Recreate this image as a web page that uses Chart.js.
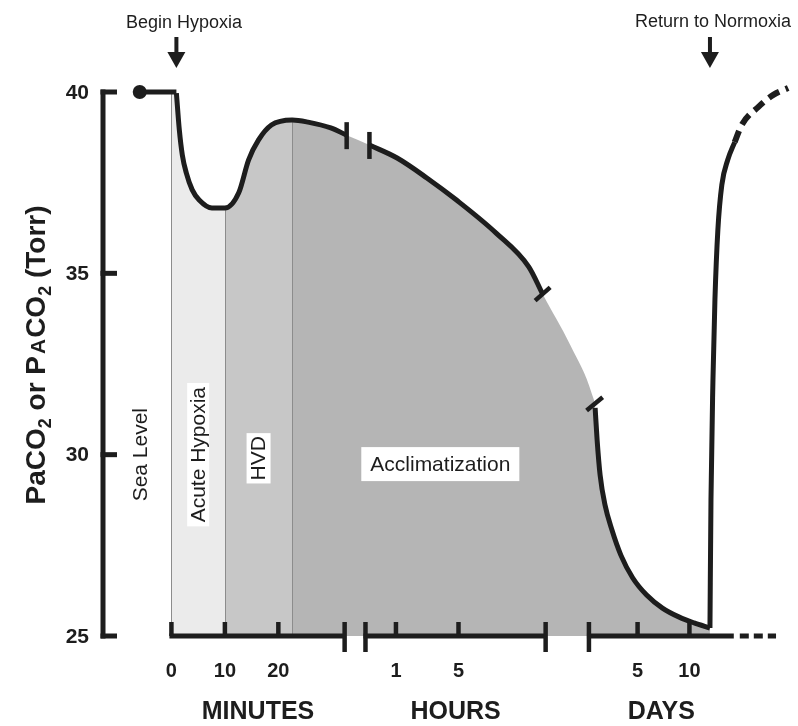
<!DOCTYPE html>
<html>
<head>
<meta charset="utf-8">
<script src="https://cdn.jsdelivr.net/npm/chart.js@4.4.1/dist/chart.umd.min.js"></script>
<style>
  html, body { margin: 0; padding: 0; background: #fff; }
  #wrap { width: 798px; height: 726px; }
</style>
</head>
<body>
<div id="wrap"><canvas id="co2Chart" width="798" height="726"></canvas></div>
<script>
// x is a "timeline position": 1 unit = 1 minute on the minutes segment,
// the hours and days segments are squeezed onto the same axis after the breaks
const yTicks = [25, 30, 35, 40];
const minuteTicks = [0, 10, 20];
const minuteLabels = ['0', '10', '20'];
const hourTicks = [42.0, 53.7];
const hourLabels = ['1', '5'];
const dayTicks = [87.2, 96.9];
const dayLabels = ['5', '10'];
const axisSegments = [[0, 32.4], [36.3, 70.0], [78.1, 105.2]];
const segmentNames = ['MINUTES', 'HOURS', 'DAYS'];
const axisDashEnd = 113.1;
const yAxisAt = -12.8;

// PaCO2 (Torr) along the timeline
const seaLevel = [{x: -5.93, y: 40}, {x: 0.93, y: 40}];
const acutePhase = [
  {x: 0.93, y: 39.97}, {x: 1.48, y: 38.95}, {x: 2.04, y: 38.26}, {x: 2.78, y: 37.77},
  {x: 3.89, y: 37.30}, {x: 5.19, y: 37.02}, {x: 7.59, y: 36.80}, {x: 10.0, y: 36.80},
  {x: 12.59, y: 37.22}, {x: 14.44, y: 38.13}, {x: 16.30, y: 38.68}, {x: 18.70, y: 39.09},
  {x: 22.6, y: 39.23}, {x: 25.56, y: 39.17}, {x: 29.81, y: 39.01}, {x: 32.78, y: 38.81}
];
const hoursPhase = [
  {x: 37.04, y: 38.54}, {x: 42.22, y: 38.18}, {x: 47.78, y: 37.63}, {x: 53.33, y: 37.02},
  {x: 60.74, y: 36.11}, {x: 66.85, y: 35.18}, {x: 69.44, y: 34.43}
];
const unmeasured = [{x: 74.63, y: 33.02}, {x: 78.70, y: 31.65}];
const daysPhase = [
  {x: 79.26, y: 31.29}, {x: 79.63, y: 30.41}, {x: 80.19, y: 29.44}, {x: 81.11, y: 28.61},
  {x: 82.41, y: 27.92}, {x: 84.07, y: 27.23}, {x: 86.30, y: 26.60}, {x: 88.89, y: 26.13},
  {x: 91.85, y: 25.77}, {x: 95.00, y: 25.52}, {x: 97.78, y: 25.36}, {x: 100.74, y: 25.22}
];
const recovery = [
  {x: 100.74, y: 25.22}, {x: 100.93, y: 28.75}, {x: 101.30, y: 32.06}, {x: 101.67, y: 34.27},
  {x: 102.22, y: 36.20}, {x: 102.96, y: 37.44}, {x: 104.07, y: 38.13}, {x: 105.37, y: 38.62}
];
const recoveryLater = [
  {x: 105.37, y: 38.62}, {x: 106.67, y: 39.09}, {x: 109.81, y: 39.59}, {x: 112.59, y: 39.92},
  {x: 115.37, y: 40.11}
];
const bandEdges = [0, 10, 22.6];
const bandColors = ['#ebebeb', '#c7c7c7', '#b5b5b5'];

const shaded = [{x: 0, y: 40}, ...acutePhase, ...hoursPhase, ...unmeasured, ...daysPhase];

const ink = '#1d1d1d';
const FAMILY = '"Liberation Sans", Arial, Helvetica, sans-serif';

function bandGradient(context) {
  const chart = context.chart;
  const { ctx, chartArea, scales } = chart;
  if (!chartArea) return bandColors[2];
  const x0 = chartArea.left, x1 = chartArea.right;
  const g = ctx.createLinearGradient(x0, 0, x1, 0);
  const t = v => (scales.x.getPixelForValue(v) - x0) / (x1 - x0);
  g.addColorStop(0, bandColors[0]);
  g.addColorStop(t(bandEdges[1]), bandColors[0]);
  g.addColorStop(t(bandEdges[1]), bandColors[1]);
  g.addColorStop(t(bandEdges[2]), bandColors[1]);
  g.addColorStop(t(bandEdges[2]), bandColors[2]);
  g.addColorStop(1, bandColors[2]);
  return g;
}

function line(ctx, x1, y1, x2, y2, w) {
  ctx.lineWidth = w;
  ctx.beginPath();
  ctx.moveTo(x1, y1);
  ctx.lineTo(x2, y2);
  ctx.stroke();
}

function text(ctx, str, x, y, font, align) {
  ctx.font = font;
  ctx.textAlign = align || 'center';
  ctx.textBaseline = 'middle';
  ctx.fillText(str, x, y);
}

function arrowDown(ctx, x, top) {
  ctx.fillRect(x - 2, top, 4, 18);
  ctx.beginPath();
  ctx.moveTo(x - 9, top + 15);
  ctx.lineTo(x + 9, top + 15);
  ctx.lineTo(x, top + 31);
  ctx.closePath();
  ctx.fill();
}

// phase label, rotated or flat, optionally on a white box
function bandLabel(ctx, str, cx, cy, rotated, padX, padY) {
  ctx.save();
  ctx.translate(cx, cy);
  if (rotated) ctx.rotate(-Math.PI / 2);
  ctx.font = '21px ' + FAMILY;
  const w = ctx.measureText(str).width;
  if (padX !== undefined) {
    ctx.fillStyle = '#fff';
    ctx.fillRect(-w / 2 - padX, -11 - padY, w + 2 * padX, 22 + 2 * padY);
  }
  ctx.fillStyle = ink;
  text(ctx, str, 0, 1, ctx.font);
  ctx.restore();
}

// y title with subscripts and a small-cap A
function yTitle(ctx, cx, cy) {
  const parts = [
    { t: 'PaCO', s: 28 }, { t: '2', s: 18, dy: 6 }, { t: ' or P', s: 28 },
    { t: 'A', s: 21, gap: 2 }, { t: 'CO', s: 28, gap: 1 }, { t: '2', s: 18, dy: 6 },
    { t: ' (Torr)', s: 28 }
  ];
  ctx.save();
  ctx.translate(cx, cy);
  ctx.rotate(-Math.PI / 2);
  let total = 0;
  parts.forEach(p => {
    ctx.font = 'bold ' + p.s + 'px ' + FAMILY;
    p.w = ctx.measureText(p.t).width + (p.gap || 0);
    total += p.w;
  });
  let x = -total / 2;
  ctx.fillStyle = ink;
  ctx.textAlign = 'left';
  ctx.textBaseline = 'alphabetic';
  parts.forEach(p => {
    ctx.font = 'bold ' + p.s + 'px ' + FAMILY;
    ctx.fillText(p.t, x + (p.gap || 0), 10 + (p.dy || 0));
    x += p.w;
  });
  ctx.restore();
}

const timelineDecor = {
  id: 'timelineDecor',
  afterDatasetDraw(chart, args) {
    // thin edges between the shaded phases, drawn before the curve strokes
    if (args.index !== 0) return;
    const { ctx, scales: { x, y } } = chart;
    ctx.save();
    ctx.strokeStyle = '#8c8c8c';
    bandEdges.forEach(edge => {
      const pt = shaded.find(p => p.x === edge);
      const px = Math.round(x.getPixelForValue(edge)) + 0.5;
      line(ctx, px, y.getPixelForValue(pt.y) + 2, px, y.getPixelForValue(25), 1);
    });
    ctx.restore();
  },
  afterDraw(chart) {
    const { ctx, scales: { x, y } } = chart;
    const X = v => x.getPixelForValue(v);
    const Y = v => y.getPixelForValue(v);
    ctx.save();
    ctx.strokeStyle = ink;
    ctx.fillStyle = ink;
    ctx.lineCap = 'butt';

    // y axis with inward ticks
    const ax = X(yAxisAt);
    line(ctx, ax, Y(40) - 2.5, ax, Y(25) + 2.5, 5);
    yTicks.forEach(v => {
      line(ctx, ax - 2.5, Y(v), ax + 14, Y(v), 5);
      text(ctx, String(v), ax - 14, Y(v) + 1, 'bold 21px ' + FAMILY, 'right');
    });
    yTitle(ctx, 35, 355);

    // broken x axis
    const base = Y(25);
    axisSegments.forEach((seg, i) => {
      line(ctx, X(seg[0]) - 2, base, X(seg[1]), base, 5);
      if (i > 0) line(ctx, X(seg[0]), base - 14, X(seg[0]), base + 16, 4.5);
      if (i < axisSegments.length - 1) line(ctx, X(seg[1]), base - 14, X(seg[1]), base + 16, 4.5);
      text(ctx, segmentNames[i], X((seg[0] + seg[1]) / 2), base + 76, 'bold 25px ' + FAMILY);
    });
    ctx.setLineDash([9, 5]);
    line(ctx, X(axisSegments[2][1]) + 6, base, X(axisDashEnd), base, 5);
    ctx.setLineDash([]);
    const tickSets = [[minuteTicks, minuteLabels], [hourTicks, hourLabels], [dayTicks, dayLabels]];
    tickSets.forEach(([ticks, labels]) => {
      ticks.forEach((v, j) => {
        line(ctx, X(v), base, X(v), base - 14, 4.5);
        text(ctx, labels[j], X(v), base + 35, 'bold 20px ' + FAMILY);
      });
    });

    // break ticks across the curve
    const a = acutePhase[acutePhase.length - 1], h = hoursPhase[0];
    line(ctx, X(a.x), Y(a.y) - 13, X(a.x), Y(a.y) + 14, 4.5);
    line(ctx, X(h.x), Y(h.y) - 13, X(h.x), Y(h.y) + 14, 4.5);
    // end caps where the hours and days curves stop
    const capDx = 10 * Math.cos(0.72), capDy = 10 * Math.sin(0.72);
    const e = hoursPhase[hoursPhase.length - 1], d = daysPhase[0];
    line(ctx, X(e.x) - capDx, Y(e.y) + capDy, X(e.x) + capDx, Y(e.y) - capDy, 4.5);
    line(ctx, X(d.x) - capDx - 1, Y(d.y) + capDy - 4, X(d.x) + capDx, Y(d.y) - capDy - 4, 4.5);

    // event markers
    text(ctx, 'Begin Hypoxia', 184, 23, '18px ' + FAMILY);
    arrowDown(ctx, X(seaLevel[1].x), 37);
    text(ctx, 'Return to Normoxia', 713, 22, '18px ' + FAMILY);
    arrowDown(ctx, X(recovery[0].x), 37);

    // phase labels
    bandLabel(ctx, 'Sea Level', X(-5.9), Y(30), true);
    bandLabel(ctx, 'Acute Hypoxia', X(5), Y(30), true, 4, 0);
    bandLabel(ctx, 'HVD', X(16.3), Y(29.9), true, 3, 1);
    bandLabel(ctx, 'Acclimatization', X(50.3), Y(29.74), false, 9, 6);
    ctx.restore();
  }
};

const stroke = {
  borderColor: ink,
  borderWidth: 5,
  pointRadius: 0,
  fill: false,
  cubicInterpolationMode: 'monotone',
  borderJoinStyle: 'round',
  clip: false,
  order: 0
};

new Chart(document.getElementById('co2Chart'), {
  type: 'line',
  data: {
    datasets: [
      { data: shaded, borderWidth: 0, pointRadius: 0, fill: { value: 25 },
        backgroundColor: bandGradient, cubicInterpolationMode: 'monotone', order: 2 },
      { ...stroke, data: seaLevel, tension: 0, cubicInterpolationMode: 'default',
        pointRadius: [7, 0], pointBackgroundColor: ink, pointBorderWidth: 0 },
      { ...stroke, data: acutePhase },
      { ...stroke, data: hoursPhase },
      { ...stroke, data: daysPhase },
      { ...stroke, data: recovery },
      { ...stroke, data: recoveryLater, borderDash: [12, 7], borderWidth: 6 }
    ]
  },
  options: {
    responsive: false,
    animation: false,
    events: [],
    layout: { padding: { left: 103, right: 0, top: 92, bottom: 90 } },
    scales: {
      x: { type: 'linear', min: yAxisAt, max: 115.9, display: false },
      y: { type: 'linear', min: 25, max: 40, display: false }
    },
    plugins: {
      legend: { display: false },
      tooltip: { enabled: false }
    }
  },
  plugins: [timelineDecor]
});
</script>
</body>
</html>
